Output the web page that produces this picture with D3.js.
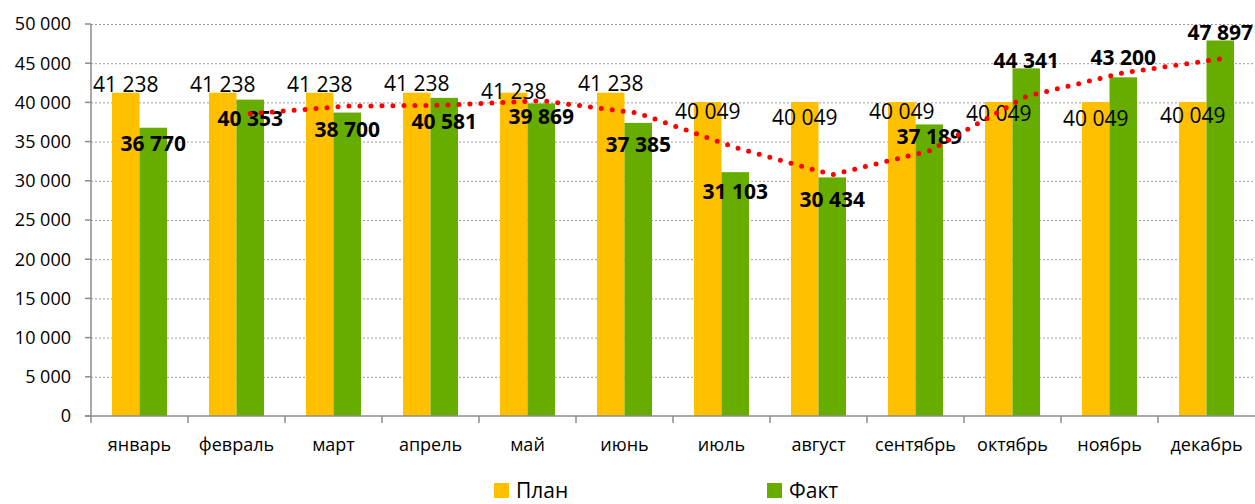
<!DOCTYPE html>
<html>
<head>
<meta charset="utf-8">
<script src="https://cdn.jsdelivr.net/npm/d3@7"></script>
<style>
    html, body { margin: 0; padding: 0; background: #fff; }
    svg { display: block; font-family: 'Open Sans', sans-serif; }
    .grid-line { stroke: #9a9a9a; stroke-width: 1; stroke-dasharray: 2 2; }
    .axis-line { stroke: #8c8c8c; stroke-width: 1.5; fill: none; }
    .tick-label { font-size: 18px; fill: #000; }
    .cat-label { font-size: 18px; fill: #000; }
    .plan-label { font-size: 21px; fill: #000; }
    .fact-label { font-size: 21px; font-weight: bold; fill: #000; }
    .legend-label { font-size: 21px; fill: #000; }
    .trend { fill: none; stroke: #ff0000; stroke-width: 5; stroke-linecap: round; stroke-dasharray: 0 11; }
</style>
</head>
<body>
<svg id="chart" width="1255" height="504"></svg>
<script>
var months = ['январь', 'февраль', 'март', 'апрель', 'май', 'июнь',
              'июль', 'август', 'сентябрь', 'октябрь', 'ноябрь', 'декабрь'];
var planValues = [41238, 41238, 41238, 41238, 41238, 41238,
                  40049, 40049, 40049, 40049, 40049, 40049];
var factValues = [36770, 40353, 38700, 40581, 39869, 37385,
                  31103, 30434, 37189, 44341, 43200, 47897];
// moving average (2 periods) as drawn in the picture
var trendValues = [null, 38561, 39527, 39641, 40225, 38627,
                   34244, 30769, 33812, 40765, 43771, 45549];
var yTickValues = [0, 5000, 10000, 15000, 20000, 25000, 30000, 35000, 40000, 45000, 50000];
var seriesNames = ['План', 'Факт'];

// label placement (center offset from bar top, px)
var planLabelDy = [-8, -8, -8, -9.5, -1, -9, 9, 15, 9.5, 11.5, 16, 13];
var factLabelDy = [15.5, 18.5, 17.3, 24, 13, 22, 19, 21.7, 12, -7.5, -20, -8];

var colors = { 'План': '#ffc000', 'Факт': '#66ad00' };
var plot = { left: 91, right: 1255, top: 24, bottom: 416 };

var ru = d3.formatLocale({ decimal: ',', thousands: ' ', grouping: [3], currency: ['', ''] });
var fmt = ru.format(',');

var svg = d3.select('#chart');

var x0 = d3.scaleBand().domain(months).range([plot.left, plot.right]).padding(0);
var x1 = d3.scaleBand().domain(seriesNames).range([21, 76]).padding(0);
var y = d3.scaleLinear().domain([0, 50000]).range([plot.bottom, plot.top]);

// GRID
//
svg.append('g').selectAll('line').data(yTickValues.filter(function(d) { return d > 0; }))
    .enter().append('line')
    .attr('class', 'grid-line')
    .attr('x1', plot.left).attr('x2', plot.right)
    .attr('y1', function(d) { return y(d) + 0.5; })
    .attr('y2', function(d) { return y(d) + 0.5; });

// Y AXIS
//
var yAxis = svg.append('g');
yAxis.append('line').attr('class', 'axis-line')
    .attr('x1', plot.left).attr('x2', plot.left)
    .attr('y1', plot.top).attr('y2', plot.bottom);
yAxis.selectAll('.ytick').data(yTickValues).enter().append('line')
    .attr('class', 'axis-line')
    .attr('x1', plot.left - 6).attr('x2', plot.left)
    .attr('y1', function(d) { return y(d); })
    .attr('y2', function(d) { return y(d); });
yAxis.selectAll('text').data(yTickValues).enter().append('text')
    .attr('class', 'tick-label')
    .attr('text-anchor', 'end')
    .attr('x', 71)
    .attr('y', function(d) { return y(d) + 6.4; })
    .text(function(d) { return fmt(d); });

// BARS
//
var groups = svg.append('g').selectAll('g').data(months).enter().append('g')
    .attr('transform', function(d) { return 'translate(' + x0(d) + ',0)'; });

groups.append('rect')
    .attr('x', x1('План')).attr('width', x1.bandwidth())
    .attr('y', function(d, i) { return y(planValues[i]); })
    .attr('height', function(d, i) { return y(0) - y(planValues[i]); })
    .attr('fill', colors['План']);

groups.append('rect')
    .attr('x', x1('Факт')).attr('width', x1.bandwidth())
    .attr('y', function(d, i) { return y(factValues[i]); })
    .attr('height', function(d, i) { return y(0) - y(factValues[i]); })
    .attr('fill', colors['Факт']);

// X AXIS
//
var xAxis = svg.append('g');
xAxis.append('line').attr('class', 'axis-line')
    .attr('x1', plot.left - 6).attr('x2', plot.right)
    .attr('y1', plot.bottom).attr('y2', plot.bottom);
xAxis.selectAll('.xtick').data(months).enter().append('line')
    .attr('class', 'axis-line')
    .attr('x1', function(d) { return x0(d); })
    .attr('x2', function(d) { return x0(d); })
    .attr('y1', plot.bottom).attr('y2', plot.bottom + 7);
xAxis.selectAll('text').data(months).enter().append('text')
    .attr('class', 'cat-label')
    .attr('text-anchor', 'middle')
    .attr('x', function(d) { return x0(d) + x0.bandwidth() / 2; })
    .attr('y', 451)
    .text(function(d) { return d; });

// DATA LABELS
//
groups.append('text')
    .attr('class', 'plan-label')
    .attr('text-anchor', 'middle')
    .attr('x', x1('План') + x1.bandwidth() / 2)
    .attr('y', function(d, i) { return y(planValues[i]) + planLabelDy[i] + 7.5; })
    .text(function(d, i) { return fmt(planValues[i]); });

groups.append('text')
    .attr('class', 'fact-label')
    .attr('text-anchor', 'middle')
    .attr('x', x1('Факт') + x1.bandwidth() / 2)
    .attr('y', function(d, i) { return y(factValues[i]) + factLabelDy[i] + 7.5; })
    .text(function(d, i) { return fmt(factValues[i]); });

// TREND LINE
//
var line = d3.line()
    .defined(function(d) { return d.v != null; })
    .x(function(d) { return x0(d.m) + x1('Факт') + x1.bandwidth() / 2; })
    .y(function(d) { return y(d.v); });

svg.append('path')
    .attr('class', 'trend')
    .attr('d', line(months.map(function(m, i) { return { m: m, v: trendValues[i] }; })));

// LEGEND
//
var legendX = [494, 767];
var legend = svg.append('g').selectAll('g').data(seriesNames).enter().append('g')
    .attr('transform', function(d, i) { return 'translate(' + legendX[i] + ',483)'; });
legend.append('rect').attr('width', 15).attr('height', 15)
    .attr('fill', function(d) { return colors[d]; });
legend.append('text').attr('class', 'legend-label')
    .attr('x', 22).attr('y', 14.5)
    .text(function(d) { return d; });
</script>
</body>
</html>
